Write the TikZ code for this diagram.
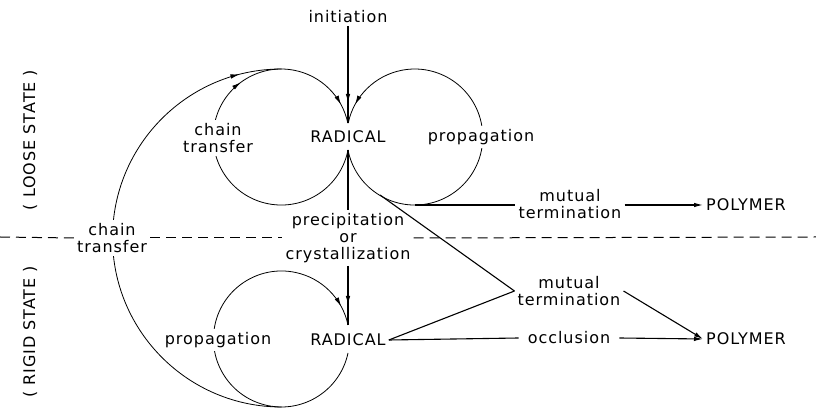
\documentclass[tikz,border=0pt]{standalone}
\usepackage{fontspec}
\setmainfont{DejaVu Sans}[LetterSpace=6]
\usetikzlibrary{arrows.meta,decorations.markings}

\begin{document}
\begin{tikzpicture}[
      x=1pt, y=1pt,
      every node/.style={font=\fontsize{16}{17}\selectfont, align=center, inner sep=3pt},
      txt/.style={fill=white},
      loop/.style={line width=0.8pt},
      line/.style={line width=1.1pt},
      divider/.style={line width=1pt, dash pattern=on 10pt off 6pt},
      arrow/.style={line width=1.1pt, -{Latex[length=9pt,width=4.5pt]}},
      tipat/.style={postaction={decorate,decoration={markings,mark=at position #1 with {\arrow{Latex[length=9pt,width=4.5pt]}}}}}
    ]
    \useasboundingbox (0,0) rectangle (816,414);

    % Cusps around the two radicals
    \coordinate (cuspA) at (348,291);
    \coordinate (cuspB) at (348,264);
    \coordinate (cuspC) at (348,89);
    \coordinate (cuspD) at (348,61);
    \coordinate (lowbot) at (281.5,7);
    \coordinate (tang) at (380,219);

    % Loops
    \draw[loop, tipat=0.66, tipat=-20pt] (cuspB) arc[start angle=-11, end angle=-348.2, radius=68];
    \draw[loop, tipat=-20pt] (cuspB) arc[start angle=191, end angle=528.2, radius=68];
    \draw[loop, tipat=-20pt] (cuspD) arc[start angle=-11.9, end angle=-348.1, radius=68];
    \draw[loop, tipat=0.92] (lowbot) arc[start angle=270, end angle=90, radius=169];

    % Loose state
    \node (init) at (348,397) {initiation};
    \node (rad1) at (348,277) {RADICAL};
    \node[txt] (ct1) at (218,276) {chain\\transfer};
    \node[txt] (prop1) at (481,277) {propagation};
    \node (mt1) at (570,210) {mutual\\termination};
    \node (poly1) at (746,209) {POLYMER};
    \node[rotate=90] (loose) at (30,274) {( LOOSE STATE )};

    % Rigid state
    \node (precip) at (348,176) {precipitation\\or\\crystallization};
    \node[txt] (ct2) at (112,176) {chain\\transfer};
    \node (rad2) at (348,74) {RADICAL};
    \node[txt] (prop2) at (218,74) {propagation};
    \node (mt2) at (569,123) {mutual\\termination};
    \node[inner sep=9pt] (occl) at (569,76) {occlusion};
    \node (poly2) at (746,75) {POLYMER};
    \node[rotate=90] (rigid) at (30,82) {( RIGID STATE )};

    % Divider
    \draw[divider] (0,177) -- (ct2.west);
    \draw[divider] (ct2.east) -- (precip.west);
    \draw[divider] (precip.east) -- (816,177);

    % Connections
    \draw[line, tipat=-20pt] (init) -- (cuspA);
    \draw[line] (cuspB) -- (precip);
    \draw[line, tipat=-20pt] (precip) -- (cuspC);
    \draw[line] (415,209) -- (mt1.west |- 0,209);
    \draw[arrow] (mt1.east |- poly1.west) -- (poly1.west);
    \draw[line] (tang) -- (mt2.west);
    \draw[line] (rad2.east) -- (mt2.west);
    \draw[line] (rad2.east) -- (occl.west);
    \draw[arrow] (occl.east) -- (poly2.west);
    \draw[arrow] (mt2.east) -- (poly2.west);

\end{tikzpicture}
\end{document}
